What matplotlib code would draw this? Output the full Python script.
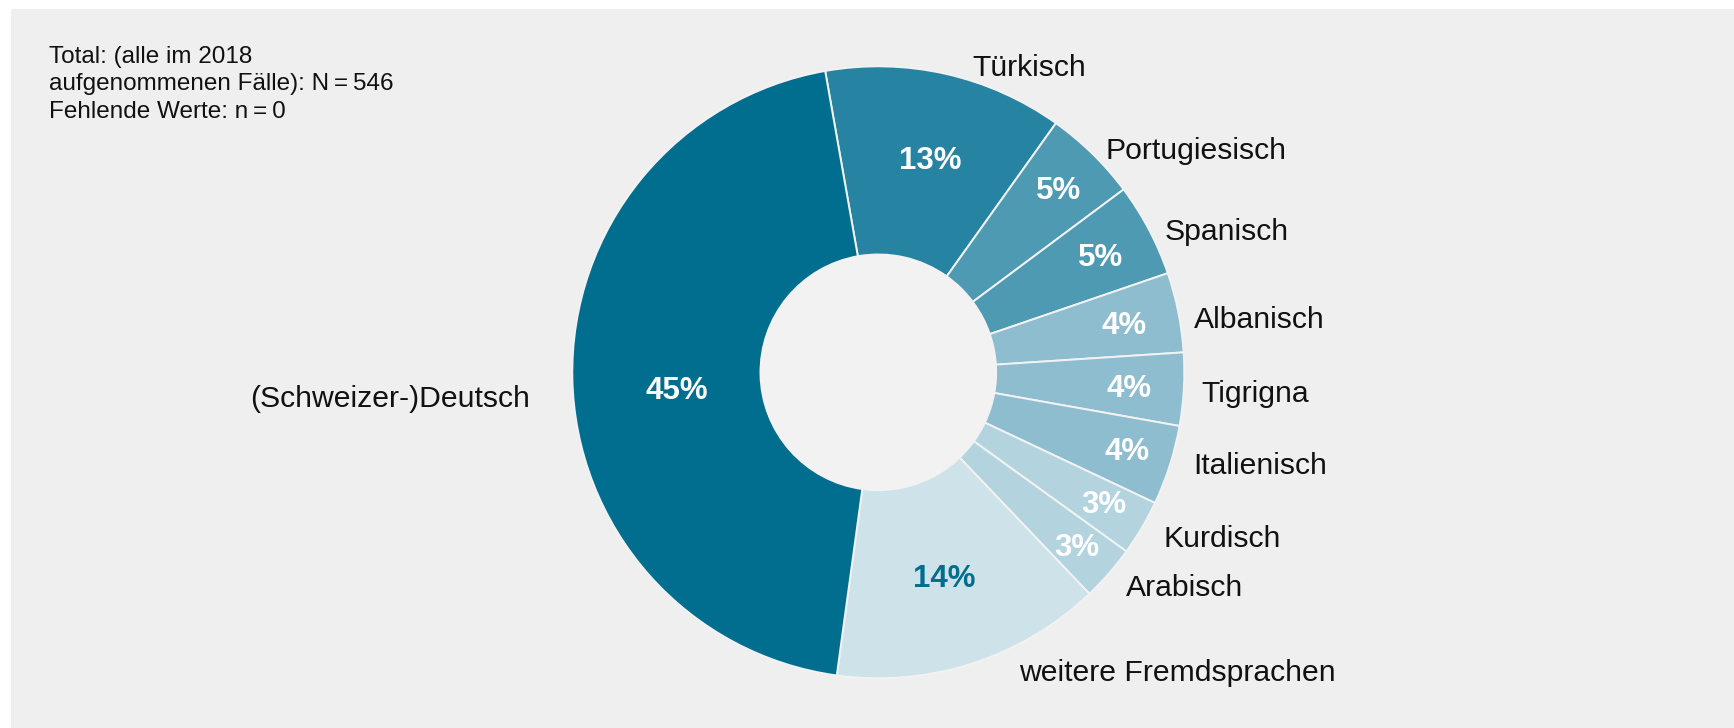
import numpy as np
import matplotlib
matplotlib.use("Agg")
import matplotlib.pyplot as plt
from matplotlib.patches import Rectangle, Circle
from matplotlib.transforms import offset_copy

plt.rcParams["font.family"] = ["Liberation Sans", "DejaVu Sans"]

# data: case counts per language (N = 546), clockwise from the top
languages = ["Türkisch", "Portugiesisch", "Spanisch", "Albanisch", "Tigrigna",
             "Italienisch", "Kurdisch", "Arabisch", "weitere Fremdsprachen",
             "(Schweizer-)Deutsch"]
counts = [69, 27, 27, 23, 21, 23, 16, 16, 78, 246]
colors = ["#2683a2", "#4e9ab3", "#4e9ab3", "#8dbdcf", "#8dbdcf",
          "#8dbdcf", "#b3d4df", "#b3d4df", "#cde3e9", "#026e8f"]
pct_colors = ["white"] * 8 + ["#026e8f", "white"]
note = "Total: (alle im 2018\naufgenommenen Fälle): N\u2009=\u2009546\nFehlende Werte: n\u2009=\u20090"

# layout tweaks (label placement relative to wedge middle)
label_dist = [1.06, 1.05, 1.05, 1.05, 1.056, 1.07, 1.07, 1.06, 1.07, 1.14]
label_shift = [-4.2, -0.6, -0.8, -0.9, 0.3, 2.0, 1.0, 0.8, 7.6, 2.4]
pct_dist = [0.72, 0.84, 0.82, 0.82, 0.82, 0.85, 0.85, 0.86, 0.70, 0.66]
pct_shift = [-1.0, 0, 0, 0, 0, 0.5, 0.5, 0, 0, 3.5]

W, H = 1734, 728
cx, cy, R = 878.3, 372.3, 306.0
hole = 0.385

fig = plt.figure(figsize=(W / 100, H / 100), dpi=100)
fig.patch.set_facecolor("white")
fig.patches.append(Rectangle((11 / W, 0), 1, 719 / H, transform=fig.transFigure,
                             facecolor="#efefef", edgecolor="none", zorder=-10))

ax = fig.add_axes([0, 0, 1, 1])
ax.set_facecolor("none")
ax.set_zorder(1)

wedges, _ = ax.pie(counts, colors=colors, startangle=100, counterclock=False,
                   radius=1.0, wedgeprops=dict(width=1 - hole, edgecolor="#f2f2f2",
                                               linewidth=1.4))
ax.add_patch(Circle((0, 0), hole, facecolor="#f2f2f2", edgecolor="none", zorder=3))

ax.set_xlim(-cx / R, (W - cx) / R)
ax.set_ylim(-(H - cy) / R, cy / R)
ax.set_aspect("equal")
ax.axis("off")

pct_tr = offset_copy(ax.transData, fig=fig, x=0, y=-2.5, units="dots")
lab_tr = offset_copy(ax.transData, fig=fig, x=0, y=-5.5, units="dots")

total = sum(counts)
for i, w in enumerate(wedges):
    mid = np.deg2rad((w.theta1 + w.theta2) / 2)
    # percentage inside ring
    pa = mid + np.deg2rad(pct_shift[i])
    ax.text(pct_dist[i] * np.cos(pa), pct_dist[i] * np.sin(pa),
            f"{round(100 * counts[i] / total)}%", ha="center", va="center",
            fontsize=22.5, fontweight="bold", color=pct_colors[i], zorder=4,
            transform=pct_tr)
    # category label outside
    ang = mid + np.deg2rad(label_shift[i])
    x = label_dist[i] * np.cos(ang)
    y = label_dist[i] * np.sin(ang)
    ax.text(x, y, languages[i], ha="left" if x > 0 else "right", va="center",
            fontsize=21.7, color="#111111", transform=lab_tr)

fig.text(49 / W, 1 - 46 / H, note, ha="left", va="top", fontsize=17.5,
         linespacing=1.32, color="#111111")

fig.savefig("out.png", dpi=100, facecolor=fig.get_facecolor())
